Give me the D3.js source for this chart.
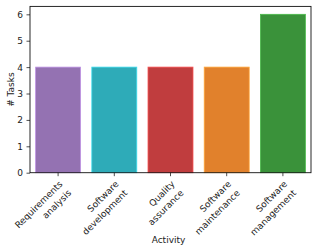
<!DOCTYPE html>
<html>
<head>
<meta charset="utf-8">
<script src="https://cdn.jsdelivr.net/npm/d3@7"></script>
<style>
  body { margin: 0; background: #fff; }
  text { font-family: "DejaVu Sans", sans-serif; }
</style>
</head>
<body>
<div id="chart"></div>
<script>
"use strict";

// activity categories (two-line tick labels)
var activities = [
  ["Requirements", "analysis"],
  ["Software", "development"],
  ["Quality", "assurance"],
  ["Software", "maintenance"],
  ["Software", "management"]
];
var taskCounts = [4, 4, 4, 4, 6];
var barColors = ["#9472b2", "#2eabb8", "#c03d3e", "#e1812c", "#3a923a"];
var yTicks = [0, 1, 2, 3, 4, 5, 6];

var width = 318,
    height = 252,
    margin = { top: 6.4, right: 7, bottom: 79.3, left: 30 };

var svg = d3.select("#chart").append("svg")
  .attr("width", width)
  .attr("height", height);

var innerW = width - margin.left - margin.right,
    innerH = height - margin.top - margin.bottom;

var keys = activities.map(function (d) { return d.join(" "); });

var x = d3.scaleBand()
  .domain(keys)
  .range([margin.left, margin.left + innerW])
  .paddingInner(0.2)
  .paddingOuter(0.1);

var y = d3.scaleLinear()
  .domain([0, 6.3])
  .range([margin.top + innerH, margin.top]);

// bars
svg.append("g")
  .selectAll("rect")
  .data(taskCounts)
  .join("rect")
  .attr("x", function (d, i) { return x(keys[i]); })
  .attr("y", function (d) { return y(d); })
  .attr("width", x.bandwidth())
  .attr("height", function (d) { return y(0) - y(d); })
  .attr("fill", function (d, i) { return barColors[i]; })
  .attr("stroke", function (d, i) { return d3.color(barColors[i]).brighter(0.7); })
  .attr("stroke-width", 0.8);

// y axis
var yAxis = svg.append("g")
  .attr("transform", "translate(" + margin.left + ",0)")
  .call(d3.axisLeft(y).tickValues(yTicks).tickFormat(d3.format("d")).tickSize(3.5).tickPadding(3.5));
yAxis.select(".domain").remove();
yAxis.selectAll("line").attr("stroke", "#222").attr("stroke-width", 0.8);
yAxis.selectAll("text").attr("font-size", 9).attr("fill", "#222")
  .attr("font-family", "DejaVu Sans, sans-serif");

// x axis ticks
var xAxis = svg.append("g")
  .attr("transform", "translate(0," + y(0) + ")")
  .call(d3.axisBottom(x).tickSize(3.5).tickFormat(""));
xAxis.select(".domain").remove();
xAxis.selectAll("line").attr("stroke", "#222").attr("stroke-width", 0.8);

// rotated two-line tick labels, right aligned on the tick
var labels = svg.append("g")
  .selectAll("g")
  .data(activities)
  .join("g")
  .attr("transform", function (d, i) {
    return "translate(" + (x(keys[i]) + x.bandwidth() / 2) + "," + (y(0) + 7) + ") rotate(-45)";
  });
labels.append("text")
  .attr("text-anchor", "end")
  .attr("font-size", 9)
  .attr("fill", "#222")
  .selectAll("tspan")
  .data(function (d) { return d; })
  .join("tspan")
  .attr("x", 0)
  .attr("y", function (d, i) { return 6.9 + i * 12.6; })
  .text(function (d) { return d; });

// frame
svg.append("rect")
  .attr("x", margin.left)
  .attr("y", margin.top)
  .attr("width", innerW)
  .attr("height", innerH)
  .attr("fill", "none")
  .attr("stroke", "#111")
  .attr("stroke-width", 0.9);

// axis titles
svg.append("text")
  .attr("x", margin.left + innerW / 2 - 2)
  .attr("y", 243.3)
  .attr("text-anchor", "middle")
  .attr("font-size", 9)
  .attr("fill", "#222")
  .text("Activity");

svg.append("text")
  .attr("transform", "translate(14," + (margin.top + innerH / 2) + ") rotate(-90)")
  .attr("text-anchor", "middle")
  .attr("font-size", 9)
  .attr("fill", "#222")
  .text("# Tasks");
</script>
</body>
</html>
